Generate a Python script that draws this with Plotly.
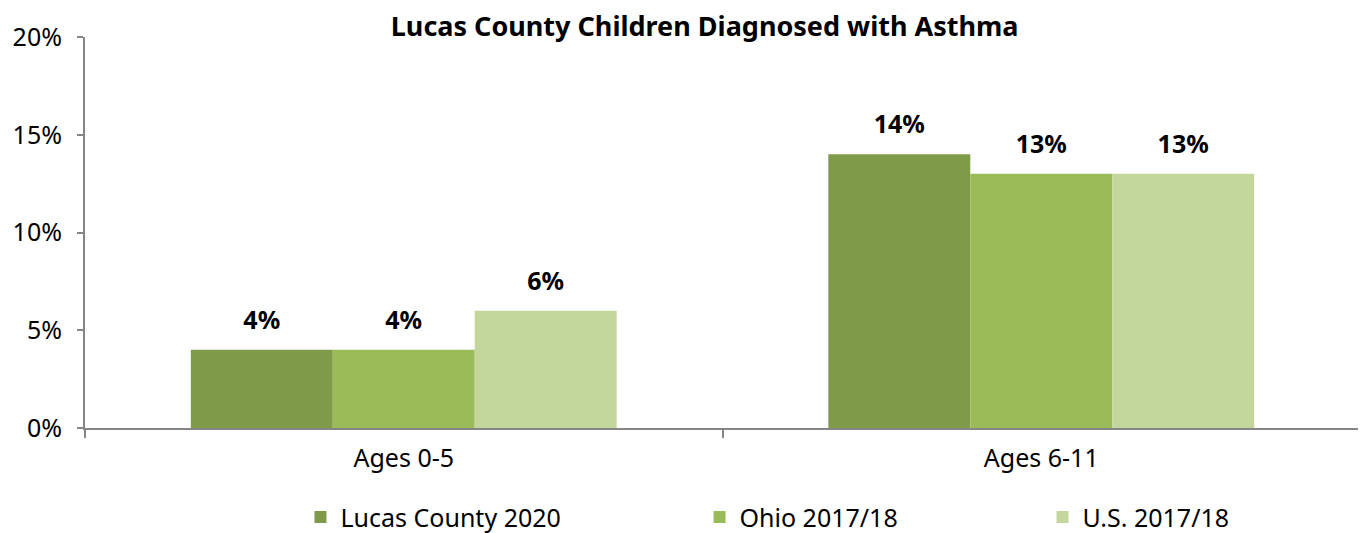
import plotly.graph_objects as go

categories = ['Ages 0-5', 'Ages 6-11']
series = ['Lucas County 2020', 'Ohio 2017/18', 'U.S. 2017/18']
values = [
    [0.04, 0.14],
    [0.04, 0.13],
    [0.06, 0.13],
]
colors = ['#7F9A48', '#9BBB59', '#C3D69B']
legend_x = [0.169, 0.482, 0.751]  # where each legend entry sits (paper coords)

font = 'Noto Sans'
gap = 0.332
fig = go.Figure()
for i, name in enumerate(series):
    fig.add_trace(go.Bar(
        x=categories, y=values[i], name=name,
        marker=dict(color=colors[i], line=dict(width=0)),
        legend='legend' if i == 0 else 'legend%d' % (i + 1),
    ))
# value labels: grouped text-scatter so they sit a bit higher above the bars
for i, name in enumerate(series):
    fig.add_trace(go.Scatter(
        x=categories, y=values[i], mode='markers+text', showlegend=False,
        marker=dict(size=22, opacity=0),
        text=['{:.0%}'.format(v) for v in values[i]],
        textposition='top center', cliponaxis=False, hoverinfo='skip',
        textfont=dict(size=25, color='black', family=font, weight='bold'),
    ))

leg = dict(orientation='h', yanchor='middle', y=-0.228, xanchor='left',
           font=dict(size=25, family=font, color='black'),
           itemwidth=30, bgcolor='rgba(0,0,0,0)')
# page body has an 8px margin, so the figure is a bit smaller than the window
fig.update_layout(
    width=1358, height=525,
    margin=dict(l=77, r=6, t=29, b=105, autoexpand=False),
    plot_bgcolor='white', paper_bgcolor='white',
    barmode='group', bargap=gap, bargroupgap=0,
    scattermode='group', scattergap=gap,
    showlegend=True,
    title=dict(text='<b>Lucas County Children Diagnosed with Asthma</b>',
               x=0.513, xanchor='center', y=0.965, yanchor='middle',
               font=dict(size=27, family=font, color='black')),
    legend=dict(leg, x=legend_x[0]),
    legend2=dict(leg, x=legend_x[1]),
    legend3=dict(leg, x=legend_x[2]),
    font=dict(family=font, color='black'),
)
fig.update_yaxes(range=[0, 0.2], dtick=0.05, tickformat='.0%',
                 showline=True, linecolor='#868686', linewidth=2,
                 ticks='outside', ticklen=6, tickcolor='#868686', tickwidth=2,
                 ticklabelstandoff=10,
                 showgrid=False, zeroline=False, automargin=False,
                 tickfont=dict(size=25, family=font, color='black'))
fig.update_xaxes(showline=True, linecolor='#868686', linewidth=2,
                 ticks='outside', ticklen=8, tickcolor='#868686', tickwidth=2,
                 tickson='boundaries', showgrid=False, automargin=False,
                 ticklabelstandoff=7,
                 tickfont=dict(size=25, family=font, color='black'))
fig.write_html('out.html')
